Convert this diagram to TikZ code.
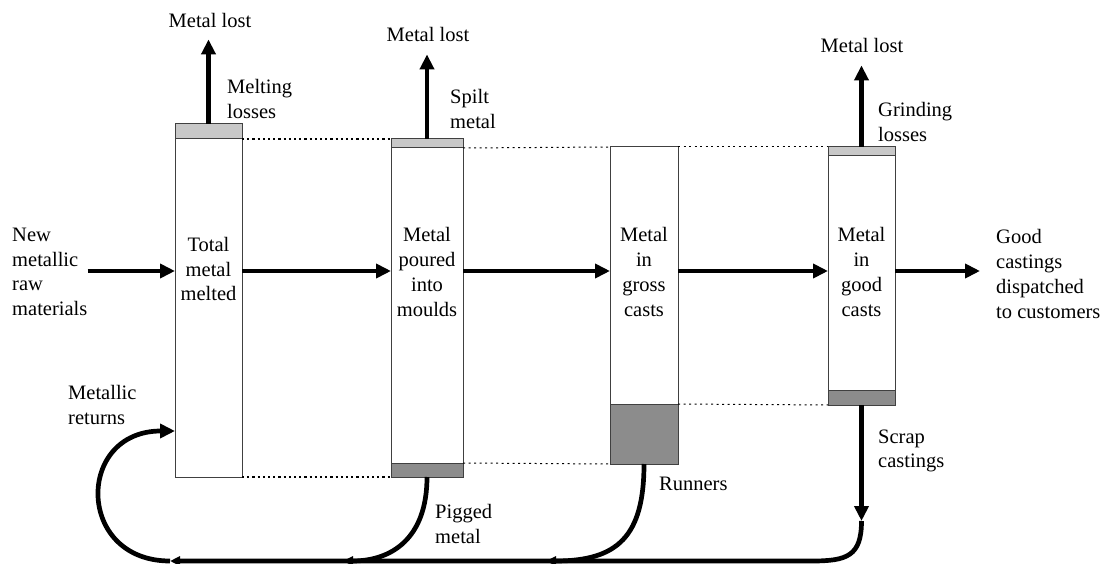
\documentclass[tikz,border=0pt]{standalone}
\usepackage{fontspec}
\setmainfont{Liberation Serif}
\usetikzlibrary{arrows.meta}
\definecolor{edgegrey}{HTML}{404040}
\definecolor{lossgrey}{HTML}{C8C8C8}
\definecolor{scrapgrey}{HTML}{8C8C8C}
\tikzset{
  bar/.style 2 args={draw=edgegrey, line width=1pt, fill=white, rectangle,
    inner sep=0pt, outer sep=0pt, minimum width=#1, minimum height=#2},
  txt/.style={font=\fontsize{20.5}{24.7}\selectfont, inner sep=0pt, align=center},
  lbl/.style={txt, align=left, anchor=west},
  flow/.style={line width=4.7pt, -{Triangle[length=15pt,width=14pt]}},
  merge/.style={line width=4.7pt, -{Triangle[length=10pt,width=9pt]}},
  guide/.style={line width=1pt, dash pattern=on 2pt off 3.5pt},
  heavyguide/.style={line width=1.8pt, dash pattern=on 2.2pt off 3pt}
}
\begin{document}
\begin{tikzpicture}[x=1pt,y=-1pt]
        \useasboundingbox (0,0) rectangle (1106,564);
        \node[bar={67}{338}] (melt) at (208.5,308) {};
        \node[bar={67}{15}, fill=lossgrey] (meltcap) at (208.5,131.5) {};
        \node[bar={72}{315}] (pour) at (427,305.5) {};
        \node[bar={72}{9}, fill=lossgrey] (pourcap) at (427,143.5) {};
        \node[bar={72}{14}, fill=scrapgrey] (pourpig) at (427,470) {};
        \node[bar={68}{257}] (gross) at (644,275.5) {};
        \node[bar={68}{60}, fill=scrapgrey] (grossrun) at (644,434) {};
        \node[bar={67}{234}] (good) at (861.5,273) {};
        \node[bar={67}{9}, fill=lossgrey] (goodcap) at (861.5,151.5) {};
        \node[bar={67}{15}, fill=scrapgrey] (goodscrap) at (861.5,397.5) {};

        \node[txt] (meltlbl) at (208.5,269) {Total\\metal\\melted};
        \node[txt] (pourlbl) at (427,272) {Metal\\poured\\into\\moulds};
        \node[txt] (grosslbl) at (644,272) {Metal\\in\\gross\\casts};
        \node[txt] (goodlbl) at (861.5,272) {Metal\\in\\good\\casts};
        \node[lbl] (rawin) at (12,272) {New\\metallic\\raw\\materials};
        \node[lbl] (dispatch) at (996,274) {Good\\castings\\dispatched\\to customers};

        \node[txt, anchor=base] (meltlost) at (210,28) {Metal lost};
        \node[txt, anchor=base] (pourlost) at (428,42) {Metal lost};
        \node[txt, anchor=base] (goodlost) at (862,53) {Metal lost};
        \node[lbl] (meltloss) at (227,99) {Melting\\losses};
        \node[lbl] (spilt) at (450,109) {Spilt\\metal};
        \node[lbl] (grind) at (878,122) {Grinding\\losses};
        \node[lbl] (returns) at (68,405) {Metallic\\returns};
        \node[lbl] (pigged) at (435,524) {Pigged\\metal};
        \node[txt, anchor=base west] (runners) at (659,490) {Runners};
        \node[lbl] (scrap) at (878,451) {Scrap\\castings};

        \coordinate (axis) at (0,271);
        \coordinate (scrapend) at (861.5,521);
        \coordinate (pigjoin) at (343,561);
        \coordinate (runjoin) at (546,561);
        \coordinate (loopstart) at (170,561);
        \coordinate (ret) at (175,431);

        \draw[heavyguide] (meltcap.south east) -- (pourcap.north west);
        \draw[heavyguide] (melt.south east) -- (pourpig.south west);
        \draw[guide] (pourcap.south east) -- (gross.north west);
        \draw[guide] (pourpig.north east) -- (grossrun.south west);
        \draw[guide] (gross.north east) -- (goodcap.north west);
        \draw[guide] (grossrun.north east) -- (goodscrap.south west);

        \draw[flow] (rawin.east |- axis) -- (melt.west |- axis);
        \foreach \a/\b in {melt/pour, pour/gross, gross/good} {
          \draw[flow] (\a.east |- axis) -- (\b.west |- axis);
        }
        \draw[flow, shorten >=16pt] (good.east |- axis) -- (dispatch.west |- axis);

        \draw[flow, shorten >=11pt] (meltcap.north) -- (meltcap.north |- meltlost.south);
        \draw[flow, shorten >=12pt] (pourcap.north) -- (pourcap.north |- pourlost.south);
        \draw[flow, shorten >=12pt] (goodcap.north) -- (goodcap.north |- goodlost.south);

        \draw[flow] (goodscrap.south) -- (scrapend);
        \draw[merge] (scrapend) .. controls +(0,35) and +(35,0) .. (812,561) -- (loopstart);
        \draw[merge] (pourpig.south) .. controls +(0,62) and +(48,0) .. (pigjoin);
        \draw[merge] (grossrun.south) .. controls +(0,72) and +(72,0) .. (runjoin);
        \draw[flow] (loopstart) .. controls (75.5,561) and (75.5,431) .. (ret);
      \end{tikzpicture}
\end{document}
